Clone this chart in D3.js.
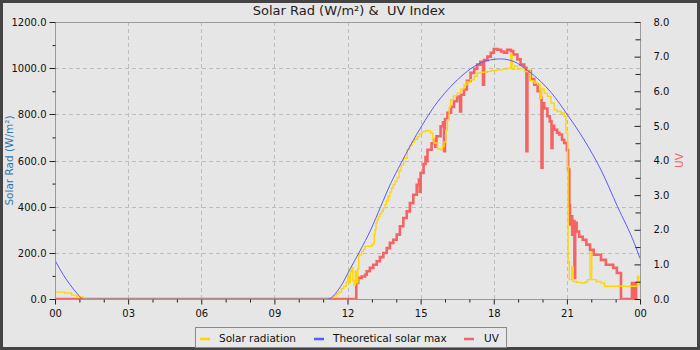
<!DOCTYPE html>
<html>
<head>
<meta charset="utf-8">
<script src="https://d3js.org/d3.v7.min.js"></script>
<style>
html,body{margin:0;padding:0;background:#444;}
svg{display:block;font-family:"DejaVu Sans",sans-serif;}
</style>
</head>
<body>
<svg id="chart" width="700" height="350"></svg>
<script>
// ---- DATA (hour of day, value) ----
const xTickHours = [0, 3, 6, 9, 12, 15, 18, 21, 24];
const xTickLabels = ["00", "03", "06", "09", "12", "15", "18", "21", "00"];
const leftTicks = [0, 200, 400, 600, 800, 1000, 1200];
const rightTicks = [0, 1, 2, 3, 4, 5, 6, 7, 8];
const seriesNames = ["Solar radiation", "Theoretical solar max", "UV"];

const solarMax = [
  [0,168],[0.34,105],[0.62,62],[0.89,26],[1.16,0],[11.2,0],[11.71,53],[12.12,133],
  [12.53,212],[12.95,299],[13.36,400],[13.77,500],[14.18,585],[14.59,667],[15.07,754],
  [15.55,833],[16.1,905],[16.65,963],[17.19,1007],[17.74,1033],[18.29,1040],[18.84,1028],
  [19.39,990],[19.93,942],[20.35,895],[21.03,797],[21.71,689],[22.4,559],[23.08,400],
  [23.77,241],[24,176]
];

const solarRad = [
  [0,30],[0.41,26],[0.68,17],[0.89,9],[1.16,3],[1.43,0],[10.9,0],[11.0,3],[11.2,6],[11.4,13],
  [11.55,22],[11.65,30],[11.75,45],[11.85,55],[11.95,75],[12.02,100],[12.08,70],[12.12,120],
  [12.17,138],[12.22,80],[12.27,60],[12.32,120],[12.37,70],[12.42,130],[12.46,192],[12.58,206],
  [12.65,215],[12.72,228],[12.92,228],[13.0,235],[13.06,243],[13.1,279],[13.13,300],[13.17,329],
  [13.22,345],[13.27,358],[13.33,370],[13.4,380],[13.47,395],[13.54,409],[13.6,427],[13.67,445],
  [13.74,463],[13.81,481],[13.88,496],[13.95,510],[14.04,525],[14.12,555],[14.2,580],[14.3,610],
  [14.45,647],[14.55,665],[14.65,680],[14.75,692],[14.86,703],[14.95,715],[15.05,725],[15.2,730],
  [15.3,728],[15.41,719],[15.5,695],[15.55,676],[15.69,650],[15.82,647],[15.9,660],[15.96,680],
  [16.03,730],[16.1,777],[16.17,830],[16.23,863],[16.35,880],[16.5,892],[16.65,910],[16.78,928],
  [16.9,940],[17.05,950],[17.2,965],[17.32,979],[17.5,982],[17.74,986],[17.9,990],[18.15,993],
  [18.35,996],[18.56,1000],[18.7,1060],[18.75,995],[18.85,1010],[18.97,995],[19.1,1000],
  [19.25,985],[19.39,993],[19.5,945],[19.66,936],[19.8,928],[19.9,870],[19.96,910],[20.07,892],
  [20.2,878],[20.35,849],[20.48,820],[20.6,812],[20.76,806],[20.89,791],[20.96,719],[21.03,575],
  [21.05,160],[21.1,84],[21.2,140],[21.26,76],[21.4,72],[21.58,69],[21.75,75],[21.85,84],
  [21.95,199],[22.02,84],[22.2,76],[22.4,69],[22.54,55],[23.85,55],[23.9,98],[23.95,60],[24,69]
];

const uvIndex = [
  [0,0],[12.36,0.46],[12.44,0.61],[12.58,0.65],[12.72,0.7],[12.79,0.8],[12.92,0.9],[13.06,0.99],
  [13.2,1.09],[13.33,1.21],[13.47,1.33],[13.61,1.47],[13.74,1.62],[13.88,1.71],[14.02,1.86],
  [14.15,2.1],[14.29,2.34],[14.43,2.53],[14.56,2.77],[14.7,3.01],[14.84,3.3],[14.93,3.45],
  [14.96,3.1],[15.0,3.64],[15.12,3.9],[15.2,4.1],[15.24,3.98],[15.28,4.31],[15.45,4.5],[15.55,4.6],
  [15.6,4.4],[15.65,4.7],[15.82,4.99],[15.92,5.1],[15.96,4.27],[16.0,5.2],[16.1,5.38],[16.25,5.55],
  [16.37,5.71],[16.5,5.85],[16.62,5.42],[16.66,5.9],[16.78,6.05],[16.9,6.3],[17.05,6.53],
  [17.2,6.65],[17.32,6.77],[17.45,6.85],[17.56,6.19],[17.6,6.9],[17.74,7.0],[17.88,7.11],
  [18.0,7.22],[18.15,7.2],[18.3,7.15],[18.42,7.11],[18.55,7.2],[18.7,7.16],[18.8,7.06],
  [18.97,6.92],[19.1,6.77],[19.25,6.68],[19.34,4.27],[19.38,6.58],[19.52,6.35],[19.66,6.19],
  [19.8,6.0],[19.93,5.81],[19.96,3.79],[20.0,5.65],[20.07,5.5],[20.2,5.28],[20.3,5.13],
  [20.37,4.36],[20.41,5.0],[20.48,4.89],[20.6,4.8],[20.69,4.75],[20.8,4.6],[20.89,4.51],
  [21.0,4.3],[21.05,3.74],[21.1,2.7],[21.13,2.15],[21.18,2.39],[21.22,1.86],[21.27,2.25],
  [21.31,0.61],[21.34,2.2],[21.4,1.95],[21.5,1.8],[21.65,1.71],[21.8,1.57],[21.95,1.42],
  [22.1,1.28],[22.4,1.13],[22.6,0.99],[22.9,0.9],[23.05,0.75],[23.22,0],[23.67,0.46],[23.77,0],
  [23.84,0.46],[24,0.46]
];

// ---- LAYOUT ----
const W = 700, H = 350;
const L = 55, R = 640, T = 22, B = 299;
const colYellow = "#ffd700", colBlue = "#5a5aff", colRed = "#f46464";

const svg = d3.select("#chart");
svg.append("rect").attr("x", 0).attr("y", 0).attr("width", W).attr("height", H).attr("fill", "#444");
svg.append("rect").attr("x", 3).attr("y", 3).attr("width", W - 6).attr("height", H - 6).attr("fill", "#e6e6e6");

const x = d3.scaleLinear().domain([0, 24]).range([L, R]);
const yL = d3.scaleLinear().domain([0, 1200]).range([B, T]);
const yR = d3.scaleLinear().domain([0, 8]).range([B, T]);

// grid
const grid = svg.append("g").attr("stroke", "#bdbdbd").attr("stroke-dasharray", "4,3").attr("stroke-width", 1);
xTickHours.slice(1, -1).forEach(h => {
  grid.append("line").attr("x1", Math.round(x(h)) + 0.5).attr("x2", Math.round(x(h)) + 0.5).attr("y1", T).attr("y2", B);
});
leftTicks.slice(1, -1).forEach(v => {
  grid.append("line").attr("y1", Math.round(yL(v)) + 0.5).attr("y2", Math.round(yL(v)) + 0.5).attr("x1", L).attr("x2", R);
});

// series
svg.append("clipPath").attr("id", "clip").append("rect")
  .attr("x", L).attr("y", T - 10).attr("width", R - L + 1).attr("height", B - T + 11);
const plot = svg.append("g").attr("clip-path", "url(#clip)");

plot.append("path").datum(uvIndex)
  .attr("d", d3.line().x(d => x(d[0])).y(d => yR(d[1])).curve(d3.curveStepAfter))
  .attr("fill", "none").attr("stroke", colRed).attr("stroke-width", 2.6);
plot.append("path").datum(solarRad)
  .attr("d", d3.line().x(d => x(d[0])).y(d => yL(d[1])).curve(d3.curveStepAfter))
  .attr("fill", "none").attr("stroke", colYellow).attr("stroke-width", 1.4);
plot.append("path").datum(solarMax)
  .attr("d", d3.line().x(d => x(d[0])).y(d => yL(d[1])).curve(d3.curveMonotoneX))
  .attr("fill", "none").attr("stroke", colBlue).attr("stroke-width", 1);

// frame
svg.append("rect").attr("x", L + 0.5).attr("y", T + 0.5).attr("width", R - L).attr("height", B - T)
  .attr("fill", "none").attr("stroke", "#9a9a9a").attr("stroke-width", 1);

// left axis
const gL = svg.append("g").attr("transform", `translate(${L + 0.5},0)`);
gL.call(d3.axisLeft(yL).tickValues(leftTicks).tickSize(6).tickPadding(3).tickFormat(d => d.toFixed(1)));
gL.select(".domain").remove();
gL.selectAll("text").attr("font-size", 10).attr("fill", "#111").attr("font-family", "DejaVu Sans");
gL.selectAll(".tick line").attr("stroke", "#222");
gL.selectAll(".tick").attr("transform", d => `translate(0,${Math.round(yL(d)) + 0.5})`);
const gLm = svg.append("g").attr("transform", `translate(${L + 0.5},0)`);
gLm.call(d3.axisLeft(yL).tickValues(d3.range(100, 1200, 200)).tickSize(3).tickFormat(""));
gLm.select(".domain").remove();
gLm.selectAll(".tick line").attr("stroke", "#222");

// right axis (ticks inward)
const gR = svg.append("g").attr("transform", `translate(${R + 0.5},0)`);
gR.call(d3.axisRight(yR).tickValues(rightTicks).tickSizeInner(-6).tickSizeOuter(0).tickPadding(13).tickFormat(d => d.toFixed(1)));
gR.select(".domain").remove();
gR.selectAll("text").attr("font-size", 10).attr("fill", "#111").attr("font-family", "DejaVu Sans");
gR.selectAll(".tick line").attr("stroke", "#222");
const gRm = svg.append("g").attr("transform", `translate(${R + 0.5},0)`);
gRm.call(d3.axisRight(yR).tickValues(d3.range(0.5, 8, 1)).tickSizeInner(-5).tickSizeOuter(0).tickFormat(""));
gRm.select(".domain").remove();
gRm.selectAll(".tick line").attr("stroke", "#222");

// bottom axis
const gB = svg.append("g").attr("transform", `translate(0,${B + 0.5})`);
gB.call(d3.axisBottom(x).tickValues(xTickHours).tickSize(5).tickPadding(5).tickFormat((d, i) => xTickLabels[i]));
gB.select(".domain").remove();
gB.selectAll("text").attr("font-size", 10).attr("fill", "#111").attr("font-family", "DejaVu Sans");
gB.selectAll(".tick line").attr("stroke", "#222");
const gBm = svg.append("g").attr("transform", `translate(0,${B + 0.5})`);
gBm.call(d3.axisBottom(x).tickValues(d3.range(1, 24).filter(h => h % 3 !== 0)).tickSize(3).tickFormat(""));
gBm.select(".domain").remove();
gBm.selectAll(".tick line").attr("stroke", "#222");

// title (double space preserved)
svg.append("text").attr("x", 349).attr("y", 15).attr("text-anchor", "middle")
  .attr("font-size", 13).attr("fill", "#222").style("white-space", "pre")
  .text("Solar Rad (W/m²) &  UV Index");

// axis titles
svg.append("text").attr("transform", `translate(13,${(T + B) / 2}) rotate(-90)`)
  .attr("text-anchor", "middle").attr("font-size", 10.5).attr("fill", "#2a78b0").text("Solar Rad (W/m²)");
svg.append("text").attr("transform", `translate(683,${(T + B) / 2}) rotate(-90)`)
  .attr("text-anchor", "middle").attr("font-size", 10.5).attr("fill", colRed).text("UV");

// legend
const lg = svg.append("g");
lg.append("rect").attr("x", 195.5).attr("y", 327.5).attr("width", 311).attr("height", 20)
  .attr("fill", "#e8e8e8").attr("stroke", "#8a8a8a");
const legendItems = [
  {name: seriesNames[0], color: colYellow, sx: 200, tx: 219},
  {name: seriesNames[1], color: colBlue, sx: 314, tx: 333},
  {name: seriesNames[2], color: colRed, sx: 464, tx: 484}
];
legendItems.forEach(it => {
  lg.append("line").attr("x1", it.sx).attr("x2", it.sx + 10).attr("y1", 339).attr("y2", 339)
    .attr("stroke", it.color).attr("stroke-width", 2.5);
  lg.append("text").attr("x", it.tx).attr("y", 341.5).attr("font-size", 10.5).attr("fill", "#111").text(it.name);
});
</script>
</body>
</html>
